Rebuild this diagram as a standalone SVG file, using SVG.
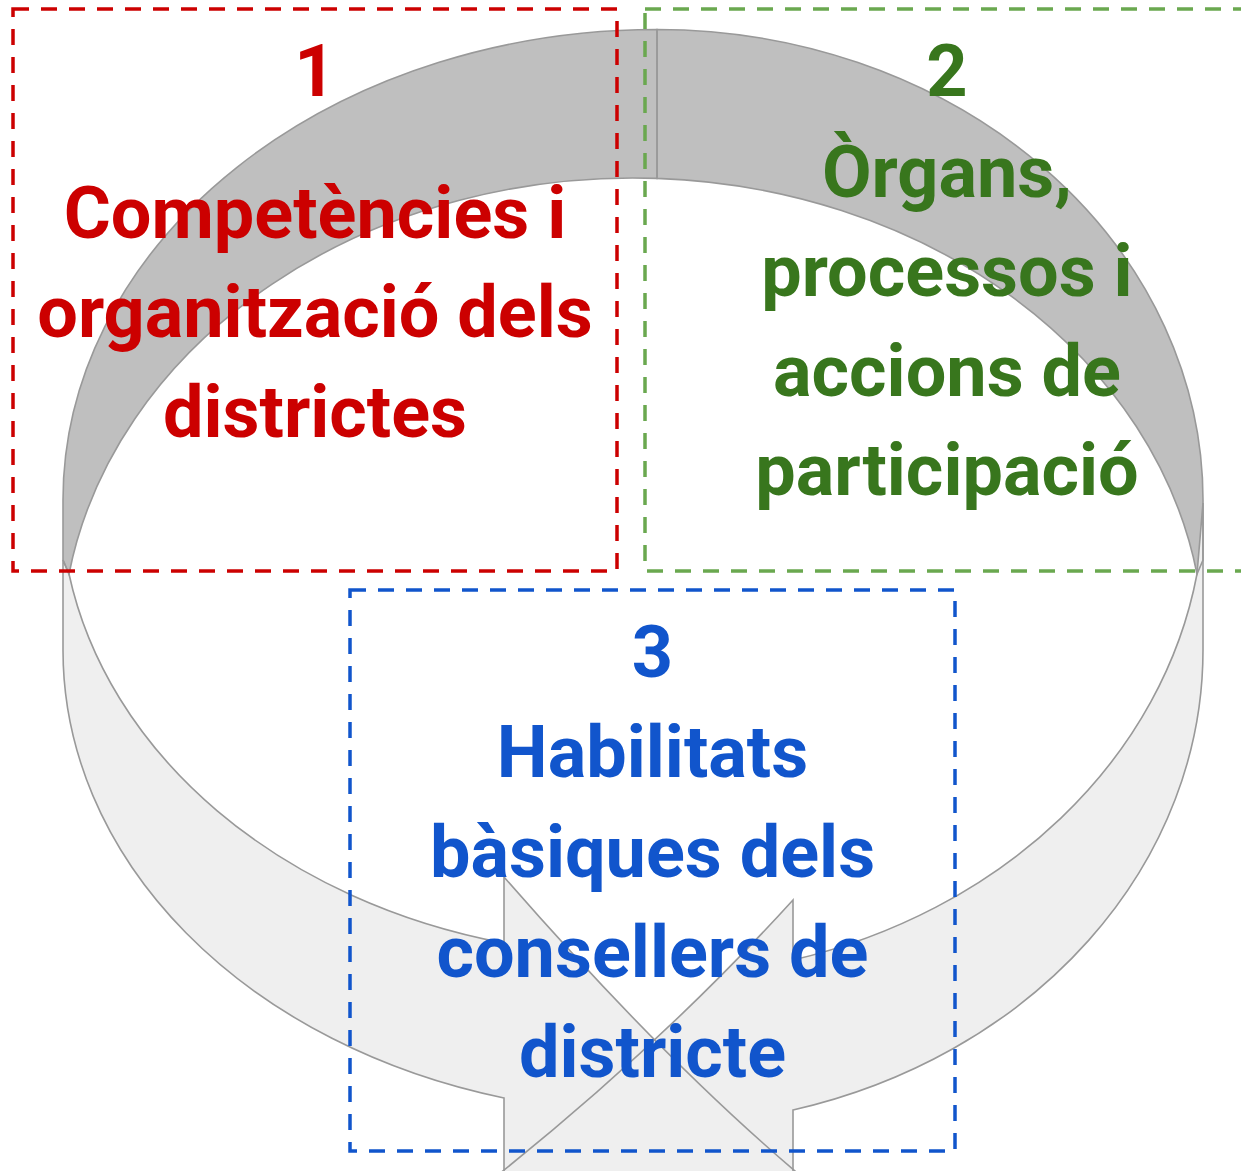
<svg xmlns="http://www.w3.org/2000/svg" width="1241" height="1171" viewBox="0 0 1241 1171">
  <style>
    .dark { fill: #bfbfbf; stroke: none; }
    .light { fill: #efefef; stroke: none; }
    .edge { fill: none; stroke: #999999; stroke-width: 1.6; stroke-linejoin: miter; }
    .box { fill: none; stroke-width: 3.5; stroke-dasharray: 16 12; }
    .lbl { font-family: Roboto, "Liberation Sans", Arial, sans-serif; font-weight: bold; font-size: 72px; text-anchor: middle; }
  </style>
  <defs>
    <path id="topLeft" d="M657,29.5 A594,470.5 0 0 0 63,500 L63,560 L69,574 A571.5,472 0 0 1 657,178.4 Z"/>
    <path id="topRight" d="M657,29.5 A546,470.5 0 0 1 1203,500 L1203,560 L1197,574 A571.5,472 0 0 0 657,178.4 Z"/>
    <path id="botLeft" d="M63,560 L63,650 A592,463 0 0 0 504,1098 L504,1360 L830,1200 Q682,1081 504,877 L504,943 A575,460 0 0 1 69,574 Z"/>
    <path id="botRight" d="M1203,503 L1203,650 A550,475.6 0 0 1 793,1110 L793,1400 L470,1197 Q652,1055 793,900 L793,960 A558,480 0 0 0 1197,574 Z"/>
  </defs>
  <rect width="1241" height="1171" fill="#ffffff"/>

  <g id="ring">
    <use href="#topLeft" class="dark"/>
    <use href="#topRight" class="dark"/>
    <use href="#botLeft" class="light"/>
    <use href="#botRight" class="light"/>
  </g>
  <g id="connectors">
    <use href="#topLeft" class="edge"/>
    <use href="#topRight" class="edge"/>
    <use href="#botLeft" class="edge"/>
    <use href="#botRight" class="edge"/>
  </g>

  <g id="node1">
    <rect class="box" x="13" y="9" width="604" height="562" stroke="#cc0000"/>
    <g class="lbl" fill="#cc0000">
      <text x="315" y="96">1</text>
      <text x="315" y="238">Competències i</text>
      <text x="315" y="337">organització dels</text>
      <text x="315" y="437">districtes</text>
    </g>
  </g>

  <g id="node2">
    <rect class="box" x="645" y="9" width="610" height="562" stroke="#6aa84f"/>
    <g class="lbl" fill="#38761d">
      <text x="947" y="96">2</text>
      <text x="947" y="197">Òrgans,</text>
      <text x="947" y="296">processos i</text>
      <text x="947" y="396">accions de</text>
      <text x="947" y="495">participació</text>
    </g>
  </g>

  <g id="node3">
    <rect class="box" x="350" y="590" width="605" height="561" stroke="#1155cc"/>
    <g class="lbl" fill="#1155cc">
      <text x="652.5" y="677">3</text>
      <text x="652.5" y="777">Habilitats</text>
      <text x="652.5" y="877">bàsiques dels</text>
      <text x="652.5" y="977">consellers de</text>
      <text x="652.5" y="1077">districte</text>
    </g>
  </g>
</svg>
